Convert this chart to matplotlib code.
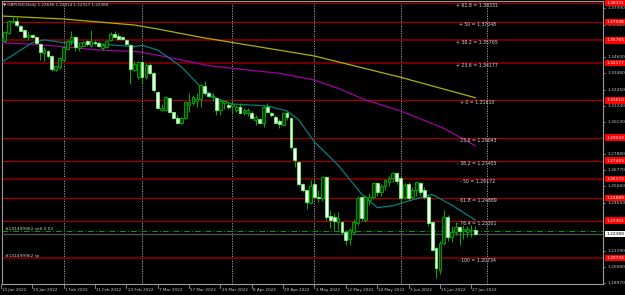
import matplotlib
matplotlib.use('Agg')
import matplotlib.pyplot as plt
from matplotlib.patches import Rectangle
import pandas as pd

# ---------------- data ----------------
dates = pd.bdate_range('2022-01-10', periods=122)

opens = [1.3563, 1.3570, 1.3628, 1.3705, 1.3710, 1.3677, 1.3646, 1.3600, 1.3616, 1.3598,
         1.3552, 1.3489, 1.3501, 1.3466, 1.3374, 1.3390, 1.3443, 1.3519, 1.3575, 1.3598,
         1.3524, 1.3540, 1.3570, 1.3535, 1.3568, 1.3559, 1.3524, 1.3528, 1.3582, 1.3621,
         1.3607, 1.3602, 1.3582, 1.3547, 1.3374, 1.3320, 1.3427, 1.3321, 1.3409, 1.3353,
         1.3222, 1.3098, 1.3095, 1.3176, 1.3083, 1.3037, 1.3003, 1.3037, 1.3130, 1.3146,
         1.3160, 1.3169, 1.3261, 1.3210, 1.3183, 1.3180, 1.3095, 1.3146, 1.3130, 1.3123,
         1.3095, 1.3118, 1.3076, 1.3072, 1.3076, 1.3026, 1.3030, 1.3003, 1.3118, 1.3076,
         1.3049, 1.3021, 1.2991, 1.3076, 1.3037, 1.2830, 1.2738, 1.2583, 1.2542, 1.2454,
         1.2583, 1.2491, 1.2484, 1.2634, 1.2364, 1.2357, 1.2318, 1.2318, 1.2254, 1.2203,
         1.2254, 1.2311, 1.2491, 1.2334, 1.2473, 1.2496, 1.2588, 1.2530, 1.2572, 1.2599,
         1.2622, 1.2657, 1.2622, 1.2496, 1.2581, 1.2496, 1.2542, 1.2588, 1.2542, 1.2496,
         1.2318, 1.2138, 1.1988, 1.2173, 1.2357, 1.2219, 1.2254, 1.2288, 1.2260, 1.2250,
         1.2265, 1.22646]
highs = [1.3600, 1.3644, 1.3715, 1.3754, 1.3736, 1.3681, 1.3653, 1.3639, 1.3621, 1.3605,
         1.3559, 1.3528, 1.3512, 1.3473, 1.3409, 1.3464, 1.3535, 1.3582, 1.3639, 1.3605,
         1.3559, 1.3570, 1.3582, 1.3648, 1.3582, 1.3575, 1.3559, 1.3582, 1.3635, 1.3639,
         1.3628, 1.3607, 1.3589, 1.3552, 1.3432, 1.3436, 1.3436, 1.3420, 1.3420, 1.3360,
         1.3226, 1.3135, 1.3192, 1.3183, 1.3090, 1.3060, 1.3045, 1.3160, 1.3215, 1.3199,
         1.3210, 1.3275, 1.3298, 1.3222, 1.3215, 1.3187, 1.3164, 1.3160, 1.3150, 1.3164,
         1.3130, 1.3141, 1.3107, 1.3110, 1.3090, 1.3060, 1.3037, 1.3123, 1.3146, 1.3083,
         1.3060, 1.3030, 1.3083, 1.3090, 1.3045, 1.2840, 1.2745, 1.2592, 1.2546, 1.2611,
         1.2622, 1.2545, 1.2640, 1.2640, 1.2403, 1.2380, 1.2392, 1.2330, 1.2265, 1.2280,
         1.2340, 1.2500, 1.2500, 1.2505, 1.2520, 1.2595, 1.2600, 1.2580, 1.2620, 1.2640,
         1.2665, 1.2665, 1.2640, 1.2590, 1.2600, 1.2560, 1.2600, 1.2600, 1.2560, 1.2505,
         1.2330, 1.2150, 1.2190, 1.2403, 1.2370, 1.2290, 1.2320, 1.2290, 1.2300, 1.2290,
         1.2300, 1.22914]
lows = [1.3535, 1.3563, 1.3621, 1.3697, 1.3672, 1.3639, 1.3593, 1.3582, 1.3593, 1.3552,
        1.3443, 1.3436, 1.3455, 1.3363, 1.3363, 1.3381, 1.3436, 1.3512, 1.3547, 1.3505,
        1.3501, 1.3535, 1.3540, 1.3528, 1.3547, 1.3528, 1.3512, 1.3524, 1.3570, 1.3593,
        1.3582, 1.3582, 1.3547, 1.3275, 1.3363, 1.3312, 1.3275, 1.3312, 1.3339, 1.3222,
        1.3100, 1.3088, 1.3090, 1.3077, 1.3030, 1.2998, 1.2998, 1.3030, 1.3083, 1.3130,
        1.3118, 1.3118, 1.3199, 1.3183, 1.3160, 1.3060, 1.3060, 1.3100, 1.3105, 1.3072,
        1.3083, 1.3067, 1.3060, 1.3055, 1.3030, 1.2991, 1.2998, 1.2980, 1.3072, 1.3049,
        1.3003, 1.2973, 1.2984, 1.3026, 1.2823, 1.2698, 1.2569, 1.2530, 1.2408, 1.2445,
        1.2484, 1.2460, 1.2465, 1.2330, 1.2277, 1.2265, 1.2265, 1.2240, 1.2161, 1.2161,
        1.2240, 1.2300, 1.2330, 1.2320, 1.2440, 1.2480, 1.2500, 1.2500, 1.2540, 1.2570,
        1.2600, 1.2580, 1.2460, 1.2480, 1.2470, 1.2480, 1.2500, 1.2510, 1.2480, 1.2290,
        1.2120, 1.1935, 1.1960, 1.2160, 1.2190, 1.2180, 1.2230, 1.2160, 1.2200, 1.2220,
        1.2220, 1.22317]
closes = [1.3590, 1.3635, 1.3708, 1.3713, 1.3685, 1.3644, 1.3598, 1.3616, 1.3600, 1.3559,
          1.3494, 1.3508, 1.3471, 1.3379, 1.3397, 1.3455, 1.3528, 1.3575, 1.3598, 1.3528,
          1.3535, 1.3563, 1.3552, 1.3570, 1.3556, 1.3535, 1.3547, 1.3575, 1.3621, 1.3598,
          1.3586, 1.3589, 1.3552, 1.3381, 1.3413, 1.3425, 1.3321, 1.3409, 1.3351, 1.3233,
          1.3107, 1.3111, 1.3187, 1.3083, 1.3037, 1.3003, 1.3037, 1.3153, 1.3153, 1.3187,
          1.3169, 1.3268, 1.3210, 1.3192, 1.3192, 1.3095, 1.3157, 1.3160, 1.3118, 1.3137,
          1.3118, 1.3072, 1.3095, 1.3095, 1.3037, 1.3049, 1.3003, 1.3118, 1.3083, 1.3060,
          1.3007, 1.2998, 1.3072, 1.3045, 1.2837, 1.2749, 1.2583, 1.2542, 1.2461, 1.2569,
          1.2491, 1.2484, 1.2634, 1.2357, 1.2334, 1.2327, 1.2346, 1.2254, 1.2196, 1.2265,
          1.2323, 1.2489, 1.2346, 1.2496, 1.2496, 1.2588, 1.2530, 1.2572, 1.2611, 1.2627,
          1.2657, 1.2604, 1.2484, 1.2576, 1.2484, 1.2542, 1.2595, 1.2530, 1.2496, 1.2311,
          1.2127, 1.2000, 1.2173, 1.2357, 1.2219, 1.2254, 1.2288, 1.2260, 1.2272, 1.2270,
          1.2265, 1.22389]

# moving averages read at sample bars (bar number, value)
ma_slow_bar = [0, 16, 34, 40, 51, 80, 102, 121]
ma_slow_val = [1.37452, 1.37245, 1.36830, 1.36553, 1.35980, 1.34685, 1.33212, 1.31801]
ma_mid_bar = [0, 8, 16, 25, 35, 42, 53, 59, 71, 80, 86, 93, 102, 113, 121]
ma_mid_val = [1.35606, 1.35495, 1.35329, 1.35100, 1.34983, 1.34637, 1.34014, 1.33835,
              1.33489, 1.33025, 1.32451, 1.31642, 1.30881, 1.29684, 1.28481]
ma_fast_bar = [0, 8, 11, 12, 16, 23, 34, 36, 40, 46, 51, 55, 59, 68, 73, 76, 80, 86, 92,
               96, 100, 104, 110, 115, 121]
ma_fast_val = [1.34222, 1.35606, 1.35792, 1.35771, 1.35606, 1.35564, 1.35329, 1.35426,
               1.35100, 1.33945, 1.32541, 1.31760, 1.31365, 1.31227, 1.30881, 1.30259,
               1.28737, 1.27146, 1.25140, 1.24193, 1.24331, 1.24656, 1.25120, 1.24379,
               1.23342]

fib_names = ['+ 61.8', '+ 50', '+ 38.2', '+ 23.6', '+ 0', '- 23.6', '- 38.2', '- 50',
             '- 61.8', '- 76.4', '- 100']
fib_prices = [1.38331, 1.37048, 1.35765, 1.34177, 1.31610, 1.29043, 1.27455, 1.26172,
              1.24889, 1.23301, 1.20734]
fib_dark = [False, False, True, True, False, False, False, True, False, False, True]

axis_prices = [1.37990, 1.36820, 1.34600, 1.33480, 1.32350, 1.31240, 1.30130, 1.27880,
               1.26770, 1.25660, 1.24550, 1.21190, 1.20080, 1.18970]

date_labels = ['10 Jan 2022', '20 Jan 2022', '1 Feb 2022', '11 Feb 2022', '23 Feb 2022',
               '7 Mar 2022', '17 Mar 2022', '29 Mar 2022', '8 Apr 2022', '20 Apr 2022',
               '2 May 2022', '12 May 2022', '24 May 2022', '3 Jun 2022', '15 Jun 2022',
               '27 Jun 2022']
month_starts = ['2022-02-01', '2022-03-01', '2022-04-01', '2022-05-02', '2022-06-01',
                '2022-07-01']

bid = 1.22389
order_price = 1.22560
order_label = '#141499962 sell 0.02'
tp_price = 1.20734
tp_label = '#141499962 tp'
header = 'GBPUSD,Daily 1.22646 1.22914 1.22317 1.22389'

# ---------------- figure ----------------
W, H = 625, 295
fig = plt.figure(figsize=(W / 100, H / 100), dpi=100, facecolor='black')
left, right, top, bottom = 1.7, 602.7, 1.0, 284.3
ax = fig.add_axes([left / W, 1 - bottom / H, (right - left) / W, (bottom - top) / H])
ax.set_facecolor('black')

bar_px = 3.92
x0_px = 0.9
ax.set_xlim((left - x0_px) / bar_px, (right - x0_px) / bar_px)
ax.set_ylim(1.18894, 1.38490)

for s in ax.spines.values():
    s.set_color('#9a9a9a')
    s.set_linewidth(0.8)
ax.set_xticks([])
ax.set_yticks([])

n = len(opens)
pos = list(range(n))
date_index = {d.strftime('%Y-%m-%d'): i for i, d in enumerate(dates)}

# month grid
for m in month_starts:
    if m in date_index:
        xi = date_index[m]
    else:
        xi = n + len(pd.bdate_range(dates[-1], m)) - 2  # future bars
    ax.axvline(xi, color='#b0b0b0', lw=0.6, ls=(0, (1.5, 1.5)), zorder=1)

# fib lines
fib_text_x = 121.5
for nm, pr, dk in zip(fib_names, fib_prices, fib_dark):
    ax.axhline(pr, color='#6a0000' if dk else '#a00000', lw=1.6 if dk else 0.9, zorder=2)
    ax.text(fib_text_x, pr, f'{nm} = {pr:.5f}', color='#d8d8d8', fontsize=3.3,
            ha='center', va='top', zorder=6)

# order / bid lines
ax.axhline(order_price, color='#00a000', lw=0.7, ls=(0, (6, 2, 1, 2)), zorder=3)
ax.axhline(bid, color='#4a5050', lw=1.0, zorder=3)
ax.text(1.0, order_price, order_label, color='#c8c8c8', fontsize=3.2, va='bottom', zorder=6)
ax.text(1.0, tp_price, tp_label, color='#c8c8c8', fontsize=3.2, va='bottom', zorder=6)

# moving averages
ax.plot(ma_slow_bar, ma_slow_val, color='#b0b000', lw=0.9, zorder=4)
ax.plot(ma_mid_bar, ma_mid_val, color='#a000a0', lw=0.9, zorder=4)
ax.plot(ma_fast_bar, ma_fast_val, color='#008080', lw=0.9, zorder=4)

# candles
bw = 0.72
for i, o, h, l, c in zip(pos, opens, highs, lows, closes):
    ax.plot([i, i], [l, h], color='#00b000', lw=0.7, zorder=5, solid_capstyle='butt')
    lo_, hi_ = min(o, c), max(o, c)
    hgt = max(hi_ - lo_, 0.00015)
    if c >= o:
        rect = Rectangle((i - bw / 2, lo_), bw, hgt, facecolor='#003000',
                         edgecolor='#00b000', lw=0.6, zorder=5)
    else:
        rect = Rectangle((i - bw / 2, lo_), bw, hgt, facecolor='white',
                         edgecolor='#60ff60', lw=0.6, zorder=5)
    ax.add_patch(rect)

# right axis labels
ytr = ax.get_yaxis_transform()
for pr in axis_prices:
    ax.plot([1.0, 1.004], [pr, pr], transform=ytr, color='#9a9a9a', lw=0.5, clip_on=False)
    ax.text(1.008, pr, f'{pr:.5f}', transform=ytr, color='#c8c8c8', fontsize=3.2,
            va='center', ha='left', clip_on=False)
for pr in fib_prices:
    ax.text(1.006, pr, f'{pr:.5f}', transform=ytr, color='white', fontsize=3.2,
            va='center', ha='left', clip_on=False,
            bbox=dict(boxstyle='square,pad=0.25', fc='#ff0000', ec='none'))
ax.text(1.006, bid, f'{bid:.5f}', transform=ytr, color='black', fontsize=3.2,
        va='center', ha='left', clip_on=False,
        bbox=dict(boxstyle='square,pad=0.25', fc='white', ec='none'))

# date labels
xtr = ax.get_xaxis_transform()
for k, lab in enumerate(date_labels):
    xi = k * 8
    ax.plot([xi, xi], [0, -0.012], transform=xtr, color='#9a9a9a', lw=0.6, clip_on=False)
    ax.text(xi + 0.3, -0.012, lab, transform=xtr, color='#c8c8c8', fontsize=3.0,
            ha='left', va='top', clip_on=False)

fig.text(3 / W, 1 - 5 / H, '\u25bc ' + header, color='#d0d0d0', fontsize=3.0,
         ha='left', va='center')

fig.savefig('out.png', dpi=100, facecolor='black')
